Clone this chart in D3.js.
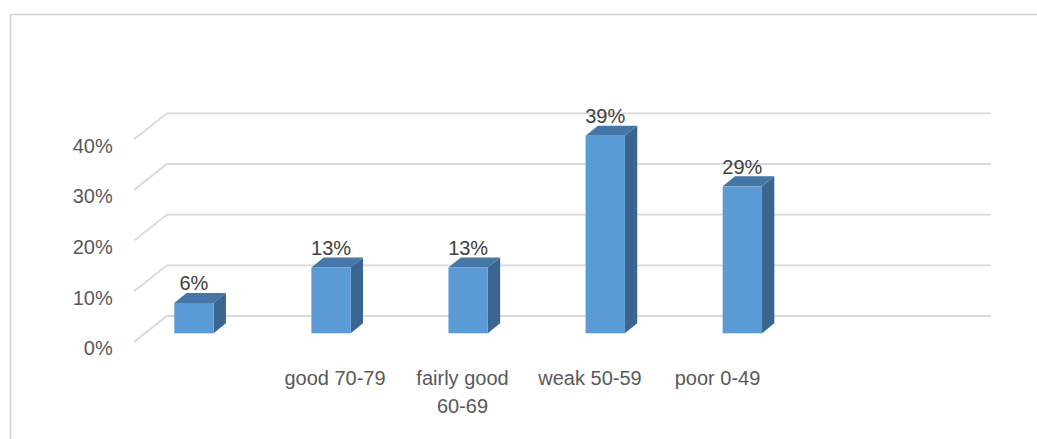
<!DOCTYPE html>
<html>
<head>
<meta charset="utf-8">
<script src="https://cdn.jsdelivr.net/npm/d3@7"></script>
<style>
  html, body { margin: 0; padding: 0; background: #fff; }
  svg { display: block; }
  text { font-family: "Liberation Sans", Arial, sans-serif; }
</style>
</head>
<body>
<svg id="chart" width="1037" height="439"></svg>
<script>
// ---- data ----
const categories = ["", "good 70-79", "fairly good 60-69", "weak 50-59", "poor 0-49", ""];
const values = [0.06, 0.13, 0.13, 0.39, 0.29, null];
const valueLabels = ["6%", "13%", "13%", "39%", "29%", ""];
const yTicks = [0, 0.1, 0.2, 0.3, 0.4];
const yTickLabels = ["0%", "10%", "20%", "30%", "40%"];

// ---- layout ----
const W = 1037, H = 439;
const svg = d3.select("#chart");
const idx = d3.range(categories.length);

// back wall
const wallLeft = 167, wallRight = 991;
const y = d3.scaleLinear().domain([0, 0.4]).range([316, 113.3]);
// side wall depth offset (back -> front)
const depthDx = -33, depthDy = 26;

// bar space
const step = 137.1;
const barX0 = 125.4;
const xBar = d3.scaleBand().domain(idx).range([barX0, barX0 + step * idx.length])
  .paddingInner(0.713).paddingOuter(0.713 / 2);
const barBaseShift = 17.3;   // bar bottom sits in front of the back wall floor
const barDx = 12.3, barDy = -10; // bar depth

// label space
const xLab = d3.scaleBand().domain(idx).range([143.75, 908.75]);

// chart border
svg.append("rect")
  .attr("x", 10.5).attr("y", 14.5)
  .attr("width", W + 20).attr("height", H + 20)
  .attr("fill", "none").attr("stroke", "#d4d4d4").attr("stroke-width", 1.6);

// gridlines
const grid = svg.append("g").attr("fill", "none").attr("stroke", "#d9d9d9").attr("stroke-width", 1.8);
yTicks.forEach(t => {
  const yy = y(t);
  grid.append("path")
    .attr("d", `M${wallLeft + depthDx},${yy + depthDy} L${wallLeft},${yy} L${wallRight},${yy}`);
});

// y labels
svg.append("g").selectAll("text").data(yTicks).join("text")
  .attr("x", 112.7)
  .attr("y", d => y(d) + depthDy + 13.2)
  .attr("text-anchor", "end")
  .attr("font-size", 20)
  .attr("fill", "#595959")
  .text((d, i) => yTickLabels[i]);

// bars
const bars = svg.append("g");
idx.forEach(i => {
  const v = values[i];
  if (v == null) return;
  const x0 = xBar(i), x1 = x0 + xBar.bandwidth();
  const yb = y(0) + barBaseShift;
  const yt = y(v) + barBaseShift;
  // side
  bars.append("path")
    .attr("d", `M${x1},${yt} L${x1 + barDx},${yt + barDy} L${x1 + barDx},${yb + barDy} L${x1},${yb} Z`)
    .attr("fill", "#3a6590");
  // top
  bars.append("path")
    .attr("d", `M${x0},${yt} L${x0 + barDx},${yt + barDy} L${x1 + barDx},${yt + barDy} L${x1},${yt} Z`)
    .attr("fill", "#4676a6");
  // front
  bars.append("rect")
    .attr("x", x0).attr("y", yt)
    .attr("width", x1 - x0).attr("height", yb - yt)
    .attr("fill", "#5b9bd5");
  // value label
  bars.append("text")
    .attr("x", x0 + xBar.bandwidth() / 2)
    .attr("y", yt + barDy - 2.7)
    .attr("text-anchor", "middle")
    .attr("font-size", 20)
    .attr("fill", "#404040")
    .text(valueLabels[i]);
});

// category labels with wrapping
const maxW = xLab.bandwidth() - 4;
const labG = svg.append("g");
idx.forEach(i => {
  const txt = categories[i];
  if (!txt) return;
  const cx = xLab(i) + xLab.bandwidth() / 2;
  const t = labG.append("text")
    .attr("text-anchor", "middle")
    .attr("font-size", 20)
    .attr("fill", "#595959");
  const words = txt.split(" ");
  let lines = [], cur = [];
  const probe = labG.append("text").attr("font-size", 20);
  words.forEach(w => {
    const test = cur.concat([w]).join(" ");
    probe.text(test);
    if (probe.node().getComputedTextLength() > maxW && cur.length) {
      lines.push(cur.join(" "));
      cur = [w];
    } else cur.push(w);
  });
  lines.push(cur.join(" "));
  probe.remove();
  lines.forEach((ln, k) => {
    t.append("tspan").attr("x", cx).attr("y", 384.5 + k * 28.8).text(ln);
  });
});
</script>
</body>
</html>
